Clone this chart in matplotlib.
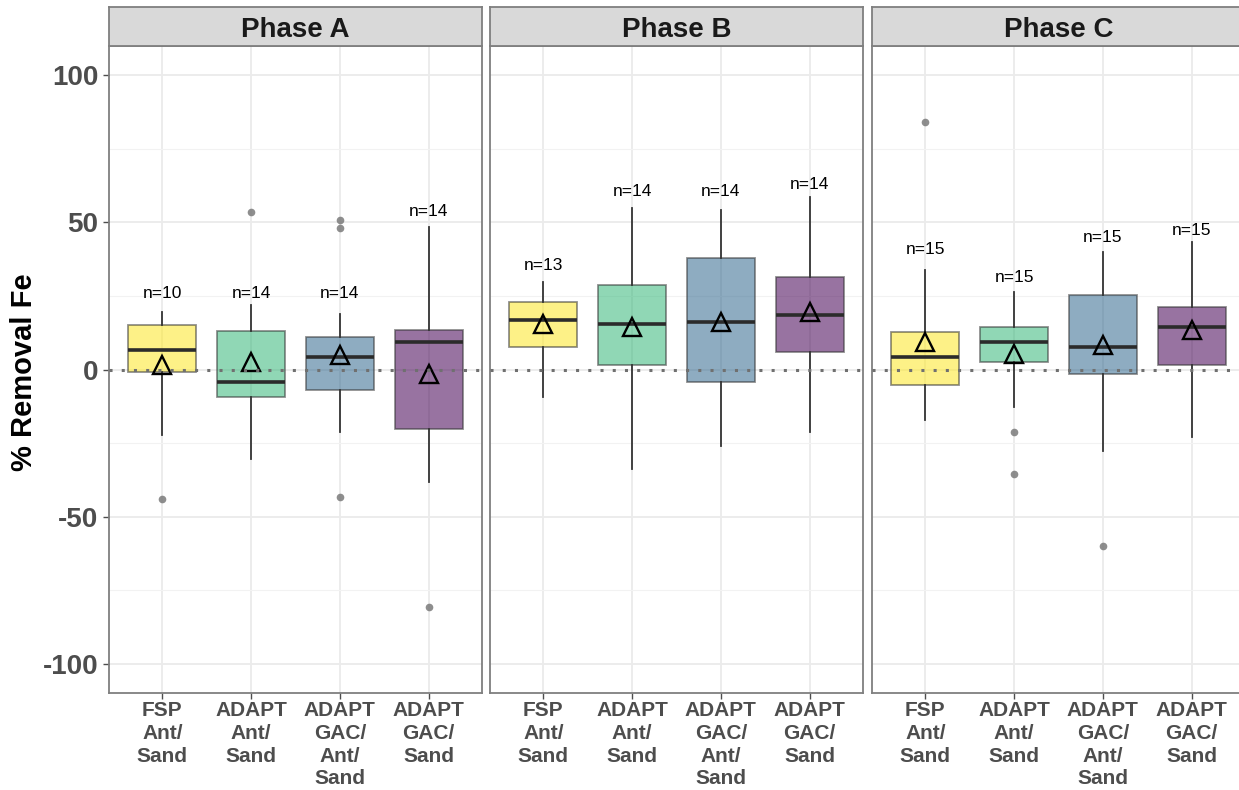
import matplotlib
matplotlib.use("Agg")
import matplotlib.pyplot as plt

plt.rcParams['font.family'] = ['Liberation Sans', 'DejaVu Sans']

phases = ['Phase A', 'Phase B', 'Phase C']
categories = ['FSP\nAnt/\nSand', 'ADAPT\nAnt/\nSand', 'ADAPT\nGAC/\nAnt/\nSand', 'ADAPT\nGAC/\nSand']
colors = ['#FDE725', '#35B779', '#31688E', '#440154']

# box statistics, one row per phase, one entry per treatment
q1 = [[-1.0, -9.2, -7.1, -20.4],
      [7.5, 1.7, -4.4, 5.8],
      [-5.4, 2.4, -1.4, 1.7]]
med = [[6.5, -4.4, 4.1, 9.2],
       [16.7, 15.6, 16.3, 18.4],
       [4.1, 9.2, 7.8, 14.3]]
q3 = [[15.0, 13.0, 10.9, 13.6],
      [23.1, 28.6, 37.8, 31.6],
      [12.6, 14.6, 25.2, 21.4]]
whislo = [[-22.4, -30.6, -21.1, -38.1],
          [-9.2, -34.0, -25.9, -21.4],
          [-17.3, -12.9, -27.6, -22.8]]
whishi = [[19.4, 21.8, 19.0, 48.3],
          [29.9, 54.8, 54.1, 58.5],
          [34.0, 26.2, 39.8, 43.2]]
means = [[1.7, 2.7, 4.8, -1.7],
         [15.6, 14.6, 16.3, 19.4],
         [9.5, 5.4, 8.5, 13.3]]
fliers = [[[-44.2], [53.7], [51.0, 48.0, -43.5], [-80.9]],
          [[], [], [], []],
          [[84.0], [-21.4, -35.4], [-59.9], []]]
n_obs = [[10, 14, 14, 14],
         [13, 14, 14, 14],
         [15, 15, 15, 15]]
n_label_y = [[25.8, 25.8, 25.8, 53.8],
             [35.4, 60.4, 60.4, 62.9],
             [40.8, 31.2, 44.8, 47.3]]

W, H = 1239, 790
fig = plt.figure(figsize=(W / 100, H / 100), dpi=100)

panel_left = [109, 490, 872]
panel_w = 373
panel_top, panel_bot = 46, 693
strip_top = 7

grey_txt = '#4D4D4D'
edge = '#333333'

for p in range(3):
    ax = fig.add_axes([panel_left[p] / W, (H - panel_bot) / H,
                       panel_w / W, (panel_bot - panel_top) / H])
    stats = []
    for i in range(4):
        stats.append(dict(q1=q1[p][i], med=med[p][i], q3=q3[p][i],
                          whislo=whislo[p][i], whishi=whishi[p][i],
                          mean=means[p][i], fliers=fliers[p][i]))
    pos = list(range(1, 5))

    bp = ax.bxp(stats, positions=pos, widths=0.77, patch_artist=True,
                showmeans=True, showcaps=False, manage_ticks=False,
                boxprops=dict(edgecolor=edge, linewidth=1.3),
                medianprops=dict(color='#2B2B2B', linewidth=2.6),
                whiskerprops=dict(color=edge, linewidth=1.3),
                meanprops=dict(marker='^', markerfacecolor='none',
                               markeredgecolor='black', markersize=13,
                               markeredgewidth=1.7),
                flierprops=dict(marker='o', markerfacecolor='#7A7A7A',
                                markeredgecolor='none', markersize=5.5,
                                alpha=0.85))
    for patch, c in zip(bp['boxes'], colors):
        patch.set_facecolor(c)
        patch.set_alpha(0.55)
        patch.set_edgecolor(edge)

    ax.axhline(0, color='#707070', lw=2.2, linestyle=(0, (1, 3)), zorder=4)

    for i in range(4):
        ax.text(pos[i], n_label_y[p][i], f'n={n_obs[p][i]}', ha='center',
                va='center', fontsize=12.5, color='black', zorder=5)

    ax.set_axisbelow(True)
    ax.set_xlim(0.4, 4.6)
    ax.set_ylim(-110, 110)
    ax.set_yticks([-100, -50, 0, 50, 100])
    ax.set_yticks([-75, -25, 25, 75], minor=True)
    ax.set_xticks(pos)
    ax.grid(which='major', color='#EBEBEB', lw=1.3)
    ax.grid(which='minor', axis='y', color='#F2F2F2', lw=0.8)

    for s in ax.spines.values():
        s.set_color('#7F7F7F')
        s.set_linewidth(1.3)
    ax.tick_params(axis='both', which='major', color='#4D4D4D', length=4, width=1)
    ax.tick_params(axis='x', pad=2)
    ax.tick_params(axis='y', which='minor', length=0)
    ax.set_xticklabels(categories, fontsize=15, fontweight='bold',
                       color=grey_txt, linespacing=1.24)
    if p == 0:
        ax.set_yticklabels(['-100', '-50', '0', '50', '100'], fontsize=20,
                           fontweight='bold', color=grey_txt)
    else:
        ax.tick_params(axis='y', labelleft=False, length=0)

    # facet strip
    sax = fig.add_axes([panel_left[p] / W, (H - panel_top) / H,
                        panel_w / W, (panel_top - strip_top) / H])
    sax.set_facecolor('#D9D9D9')
    sax.set_xticks([])
    sax.set_yticks([])
    for s in sax.spines.values():
        s.set_color('#7F7F7F')
        s.set_linewidth(1.3)
    sax.text(0.5, 0.4, phases[p], transform=sax.transAxes, ha='center',
             va='center', fontsize=20, fontweight='bold', color='#1A1A1A')

fig.text(24 / W, 1 - 372 / H, '% Removal Fe', rotation=90, ha='center',
         va='center', fontsize=21, fontweight='bold', color='black')

fig.savefig('out.png', dpi=100, facecolor='white')
